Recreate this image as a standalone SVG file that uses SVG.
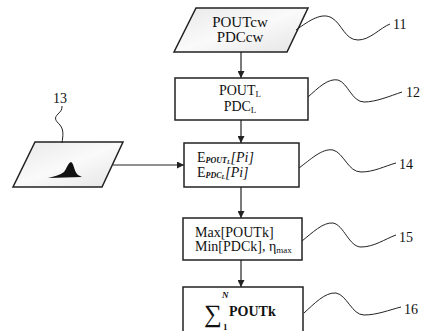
<svg xmlns="http://www.w3.org/2000/svg" width="427" height="331" viewBox="0 0 427 331">
<defs>
<linearGradient id="g" x1="0" y1="0" x2="1" y2="1">
<stop offset="0" stop-color="#e8e8e8"/><stop offset="0.5" stop-color="#fafafa"/><stop offset="1" stop-color="#e4e4e4"/>
</linearGradient>
<marker id="a" viewBox="0 0 10 10" refX="10" refY="5" markerWidth="7" markerHeight="7" orient="auto" markerUnits="userSpaceOnUse">
<path d="M0,0 L10,5 L0,10 z" fill="#222"/>
</marker>
</defs>
<style>
.b{fill:#fff;stroke:#222;stroke-width:1.5}
.t{font-family:"Liberation Serif",serif;font-size:14px;fill:#111}
.l{font-family:"Liberation Serif",serif;font-size:14px;fill:#111}
.s{font-size:9px}
.e{font-size:8px;font-weight:bold;font-style:italic}
.e2{font-size:6px;font-weight:bold;font-style:italic}
.c{fill:none;stroke:#222;stroke-width:1.2}
.w{fill:none;stroke:#222;stroke-width:1}
</style>
<rect width="427" height="331" fill="#fff"/>
<g id="n11">
<path d="M196,8 L308,8 L287,52 L174,52 Z" fill="url(#g)" stroke="#222" stroke-width="1.5"/>
<text class="t" x="240" y="27" text-anchor="middle" style="font-size:15px">POUTcw</text>
<text class="t" x="240" y="42" text-anchor="middle" style="font-size:15px">PDCcw</text>
</g>
<g id="n12">
<rect class="b" x="175" y="78" width="133" height="42"/>
<text class="t" x="240" y="95" text-anchor="middle">POUT<tspan class="s" dy="2">L</tspan></text>
<text class="t" x="240" y="111" text-anchor="middle">PDC<tspan class="s" dy="2">L</tspan></text>
</g>
<g id="n13">
<path d="M35,142 L123,142 L102,187 L13,187 Z" fill="url(#g)" stroke="#222" stroke-width="1.5"/>
<path d="M48,178 C55,176 60,175 64,172 C67,168 68,163 71,162 C74,163 74,172 78,175 L82,177 L48,178 Z" fill="#111"/>
</g>
<g id="n14">
<rect class="b" x="184" y="143" width="115" height="44"/>
<text class="t" x="197" y="162">E<tspan class="e" dy="1">POUT</tspan><tspan class="e2" dy="1">L</tspan><tspan dy="-2" style="font-style:italic">[Pi]</tspan></text>
<text class="t" x="197" y="177">E<tspan class="e" dy="1">PDC</tspan><tspan class="e2" dy="1">L</tspan><tspan dy="-2" style="font-style:italic">[Pi]</tspan></text>
</g>
<g id="n15">
<rect class="b" x="183" y="218" width="119" height="42"/>
<text class="t" x="195" y="237">Max[POUTk]</text>
<text class="t" x="195" y="251">Min[PDCk], η<tspan class="s" dy="2">max</tspan></text>
</g>
<g id="n16">
<rect class="b" x="183" y="287" width="120" height="55"/>
<text class="t" x="204" y="322" style="font-size:25px">∑</text>
<text class="t" x="222" y="298" style="font-size:9px;font-weight:bold;font-style:italic">N</text>
<text class="t" x="223" y="330" style="font-size:9px;font-weight:bold">1</text>
<text class="t" x="229" y="316" style="font-weight:bold">POUTk</text>
</g>
<g id="connectors">
<path class="c" d="M241,52 L241,78" marker-end="url(#a)"/>
<path class="c" d="M241,120 L241,143" marker-end="url(#a)"/>
<path class="c" d="M241,187 L241,218" marker-end="url(#a)"/>
<path class="c" d="M241,260 L241,287" marker-end="url(#a)"/>
<path class="c" d="M113,165 L184,165" marker-end="url(#a)"/>
<path class="w" d="M296,30 C310,20 322,12 332,18 C342,24 345,40 358,40 C370,40 380,28 390,24"/>
<path class="w" d="M308,97 C318,88 328,78 338,80 C348,83 352,102 364,102 C376,102 390,96 402,92"/>
<path class="w" d="M299,168 C310,160 322,148 333,150 C344,153 348,172 361,172 C374,172 385,166 396,163"/>
<path class="w" d="M302,241 C312,233 323,222 333,223 C344,225 349,247 361,247 C374,247 385,239 396,235"/>
<path class="w" d="M304,313 C314,304 325,292 336,293 C347,295 352,315 364,315 C377,315 389,310 401,307"/>
<path class="w" d="M62,143 C63,136 64,130 60,125 C55,120 54,118 58,114 C61,111 62,110 62,106"/>
</g>
<g id="labels">
<text class="l" x="393" y="29">11</text>
<text class="l" x="406" y="97">12</text>
<text class="l" x="399" y="169">14</text>
<text class="l" x="399" y="242">15</text>
<text class="l" x="404" y="314">16</text>
<text class="l" x="53" y="103">13</text>
</g>
</svg>
